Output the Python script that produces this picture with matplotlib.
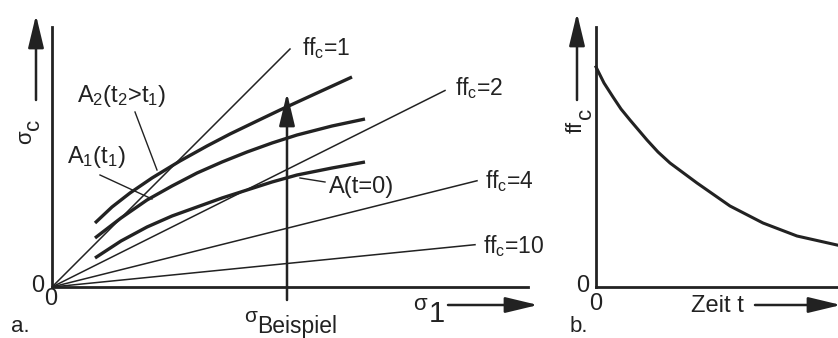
import numpy as np
import matplotlib.pyplot as plt

plt.rcParams['font.family'] = ['Liberation Sans', 'DejaVu Sans']
plt.rcParams['mathtext.default'] = 'regular'

ink = '#222222'

# a.) sigma_c over sigma_1 with lines of constant flowability
ffc_values = [1, 2, 4, 10]
ffc_labels = ['ff$_c$=1', 'ff$_c$=2', 'ff$_c$=4', 'ff$_c$=10']
ray_end = [238, 393, 425, 423]

a_sigma1 = [43, 69, 95, 120, 145, 170, 195, 220, 245, 280, 313]
a0_sigmac = [29, 46, 60, 71, 80, 89, 97, 105, 112, 119, 125]
a1_sigmac = [49, 69, 87, 101, 114, 125, 135, 144, 152, 161, 168]
a2_sigma1 = [43, 60, 78, 100, 128, 155, 178, 205, 228, 265, 300]
a2_sigmac = [64, 80, 94, 109, 126, 141, 153, 166, 177, 194, 210]

sigma_beispiel = 235

# b.) flowability over time
zeit = [0, 8, 17, 25, 34, 51, 62, 74, 101, 134, 167, 201, 241]
ffc_zeit = [220, 204, 190, 178, 167, 147, 135, 124, 104, 81, 64, 51, 42]

fig = plt.figure(figsize=(8.38, 3.38), dpi=100)
ax1 = fig.add_axes([52/838, 51/338, 476/838, 260/338])
ax2 = fig.add_axes([596/838, 51/338, 242/838, 260/338])

for ax in (ax1, ax2):
    for s in ('top', 'right'):
        ax.spines[s].set_visible(False)
    for s in ('left', 'bottom'):
        ax.spines[s].set_linewidth(2.0)
        ax.spines[s].set_color(ink)
    ax.set_xticks([])
    ax.set_yticks([])
    ax.patch.set_alpha(0)

ax1.set_xlim(0, 476)
ax1.set_ylim(0, 260)
ax2.set_xlim(0, 242)
ax2.set_ylim(0, 260)


def arrow(ax, start, end):
    ax.annotate('', xy=end, xytext=start, annotation_clip=False,
                arrowprops=dict(arrowstyle='-|>,head_length=1.0,head_width=0.24',
                                mutation_scale=20, lw=1.8, color=ink,
                                shrinkA=0, shrinkB=0))


# rays of constant ffc
for ffc, x_end in zip(ffc_values, ray_end):
    xs = np.array([0, x_end])
    ax1.plot(xs, xs / ffc, color=ink, lw=1.1)
ax1.text(250, 239, ffc_labels[0], fontsize=16.5, color=ink, va='center')
ax1.text(403, 199, ffc_labels[1], fontsize=16.5, color=ink, va='center')
ax1.text(433, 106, ffc_labels[2], fontsize=16.5, color=ink, va='center')
ax1.text(431, 41, ffc_labels[3], fontsize=16.5, color=ink, va='center')

# yield loci
ax1.plot(a_sigma1, a0_sigmac, color=ink, lw=2.4, solid_capstyle='butt')
ax1.plot(a_sigma1, a1_sigmac, color=ink, lw=2.4, solid_capstyle='butt')
ax1.plot(a2_sigma1, a2_sigmac, color=ink, lw=2.4, solid_capstyle='butt')

ax1.text(25, 185, 'A$_2$(t$_2$>t$_1$)', fontsize=17, color=ink)
ax1.plot([83, 105], [175, 117], color=ink, lw=1.0)
ax1.text(15, 124, 'A$_1$(t$_1$)', fontsize=17, color=ink)
ax1.plot([48, 100], [112, 88], color=ink, lw=1.0)
ax1.text(277, 94, 'A(t=0)', fontsize=17, color=ink)
ax1.plot([248, 273], [109, 105], color=ink, lw=1.0)

arrow(ax1, (sigma_beispiel, -13), (sigma_beispiel, 194))
ax1.text(199, -30, 'σ', fontsize=15, color=ink, ha='center', va='center')
ax1.text(205, -46, 'Beispiel', fontsize=16.5, color=ink)

# axis captions with arrows
arrow(ax1, (-16, 187), (-16, 272))
ax1.text(-26, 150, 'σ', fontsize=16, color=ink, rotation=90, ha='center', va='center')
ax1.text(-19, 163, 'c', fontsize=16, color=ink, rotation=90, ha='center', va='center')
arrow(ax1, (396, -18), (486, -18))
ax1.text(368, -17, 'σ', fontsize=16, color=ink, ha='center', va='center')
ax1.text(385, -27, '1', fontsize=21, color=ink, ha='center', va='center')

ax1.text(-14, 1, '0', fontsize=17, color=ink, ha='center', va='center')
ax1.text(-1, -12, '0', fontsize=17, color=ink, ha='center', va='center')
ax1.text(-32, -40, 'a.', fontsize=16, color=ink, ha='center', va='center')

# b.) decay of ffc over time
ax2.plot(zeit, ffc_zeit, color=ink, lw=2.2, clip_on=False)
arrow(ax2, (-19, 187), (-19, 274))
ax2.text(-20, 160, 'ff', fontsize=16, color=ink, rotation=90, ha='center', va='center')
ax2.text(-11, 174, 'c', fontsize=16, color=ink, rotation=90, ha='center', va='center')
arrow(ax2, (159, -18), (245, -18))
ax2.text(121, -19, 'Zeit t', fontsize=17, color=ink, ha='center', va='center')
ax2.text(-13, 1, '0', fontsize=17, color=ink, ha='center', va='center')
ax2.text(0, -17, '0', fontsize=17, color=ink, ha='center', va='center')
ax2.text(-17, -40, 'b.', fontsize=16, color=ink, ha='center', va='center')

fig.savefig('out.png', dpi=100)
